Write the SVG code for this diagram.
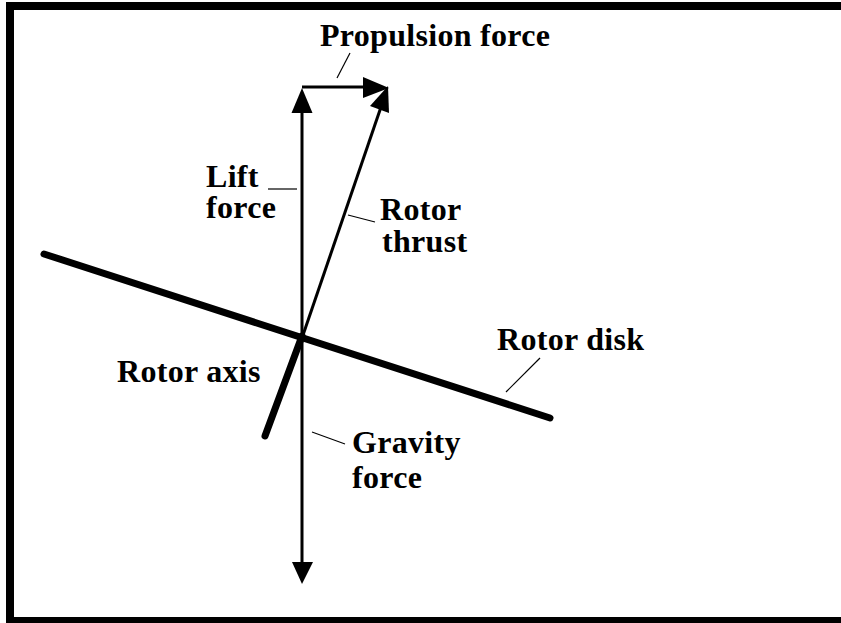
<svg xmlns="http://www.w3.org/2000/svg" width="841" height="623" viewBox="0 0 841 623">
<style>
.lbl{font-family:"Liberation Serif","Times New Roman",serif;font-weight:bold;font-size:32px;letter-spacing:0.3px;fill:#000}
.vec{stroke:#000;stroke-width:3;fill:none}
.thick{stroke:#000;stroke-width:7;stroke-linecap:round;fill:none}
.lead{stroke:#000;stroke-width:1.2;fill:none}
.head{fill:#000;stroke:none}
</style>
<rect x="0" y="0" width="841" height="623" fill="#fff"/>
<g id="frame">
<rect x="6" y="2" width="835" height="8" fill="#000"/>
<rect x="6" y="2" width="8" height="621" fill="#000"/>
<rect x="6" y="617" width="835" height="6" fill="#000"/>
</g>
<g id="connectors">
<line class="thick" x1="44" y1="254" x2="550" y2="418"/>
<line class="thick" x1="302" y1="336" x2="265" y2="436"/>
<line class="vec" x1="302" y1="108" x2="302" y2="566"/>
<polygon class="head" points="302,88 291.5,113 312.5,113"/>
<polygon class="head" points="302,584 292,562 313,562"/>
<line class="vec" x1="302" y1="87" x2="368" y2="87"/>
<polygon class="head" points="389,88 363,77 363,98"/>
<line class="vec" x1="302" y1="338" x2="381" y2="107"/>
<polygon class="head" points="388,86 370,106 389,113"/>
<line class="lead" x1="350" y1="53" x2="337" y2="78"/>
<line class="lead" x1="268" y1="189" x2="297" y2="189"/>
<line class="lead" x1="348" y1="215" x2="375" y2="222"/>
<line class="lead" x1="540" y1="358" x2="506" y2="392"/>
<line class="lead" x1="312" y1="432" x2="345" y2="444"/>
</g>
<g id="propulsion-force"><text class="lbl" x="320" y="46">Propulsion force</text></g>
<g id="lift-force"><text class="lbl" x="206" y="187">Lift</text><text class="lbl" x="206" y="218">force</text></g>
<g id="rotor-thrust"><text class="lbl" x="380" y="220">Rotor</text><text class="lbl" x="382" y="252">thrust</text></g>
<g id="rotor-axis"><text class="lbl" x="117" y="382">Rotor axis</text></g>
<g id="rotor-disk"><text class="lbl" x="497" y="350">Rotor disk</text></g>
<g id="gravity-force"><text class="lbl" x="352" y="453">Gravity</text><text class="lbl" x="352" y="488">force</text></g>
</svg>
